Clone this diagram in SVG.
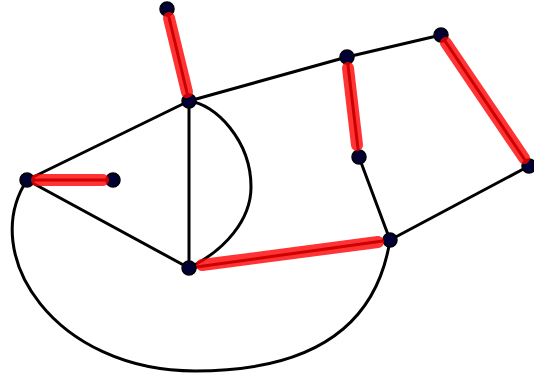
<svg xmlns="http://www.w3.org/2000/svg" width="534" height="379" viewBox="0 0 534 379">
<style>
.e{stroke:#000;stroke-width:3;fill:none;stroke-linecap:round}
.h{stroke:#ff0000;stroke-opacity:0.8;stroke-width:12;fill:none;stroke-linecap:round}
.n{fill:#000033;stroke:#000;stroke-width:1.5}
</style>
<rect width="534" height="379" fill="#fff"/>
<g id="connectors">
<line class="e" x1="167" y1="9" x2="189" y2="101"/>
<line class="e" x1="189" y1="101" x2="27" y2="180"/>
<line class="e" x1="27" y1="180" x2="113" y2="180"/>
<line class="e" x1="27" y1="180" x2="189" y2="268"/>
<line class="e" x1="189" y1="101" x2="189" y2="268"/>
<path class="e" d="M189,101 C215,104 251,140 251,187 C251,220 225,250 189,268"/>
<line class="e" x1="189" y1="101" x2="347" y2="57"/>
<line class="e" x1="347" y1="57" x2="441" y2="35"/>
<line class="e" x1="347" y1="57" x2="359" y2="157"/>
<line class="e" x1="441" y1="35" x2="529" y2="166"/>
<line class="e" x1="359" y1="157" x2="390" y2="240"/>
<line class="e" x1="390" y1="240" x2="529" y2="166"/>
<line class="e" x1="189" y1="268" x2="390" y2="240"/>
<path class="e" d="M27,180 C-22,255 55,371 195,371 C300,371 375,335 390,240"/>
</g>
<g id="nodes">
<g id="nA"><circle class="n" cx="167" cy="9" r="7"/></g>
<g id="nB"><circle class="n" cx="189" cy="101" r="7"/></g>
<g id="nC"><circle class="n" cx="27" cy="180" r="7"/></g>
<g id="nD"><circle class="n" cx="113" cy="180" r="7"/></g>
<g id="nE"><circle class="n" cx="189" cy="268" r="7"/></g>
<g id="nF"><circle class="n" cx="347" cy="57" r="7"/></g>
<g id="nG"><circle class="n" cx="441" cy="35" r="7"/></g>
<g id="nH"><circle class="n" cx="359" cy="157" r="7"/></g>
<g id="nI"><circle class="n" cx="390" cy="240" r="7"/></g>
<g id="nJ"><circle class="n" cx="529" cy="166" r="7"/></g>
</g>
<g id="highlights">
<line class="h" x1="169" y1="18" x2="187" y2="92"/>
<line class="h" x1="37" y1="180" x2="103" y2="180"/>
<line class="h" x1="202" y1="265" x2="378" y2="242"/>
<line class="h" x1="348" y1="68" x2="357" y2="145"/>
<line class="h" x1="446" y1="43" x2="524" y2="158"/>
</g>
</svg>
